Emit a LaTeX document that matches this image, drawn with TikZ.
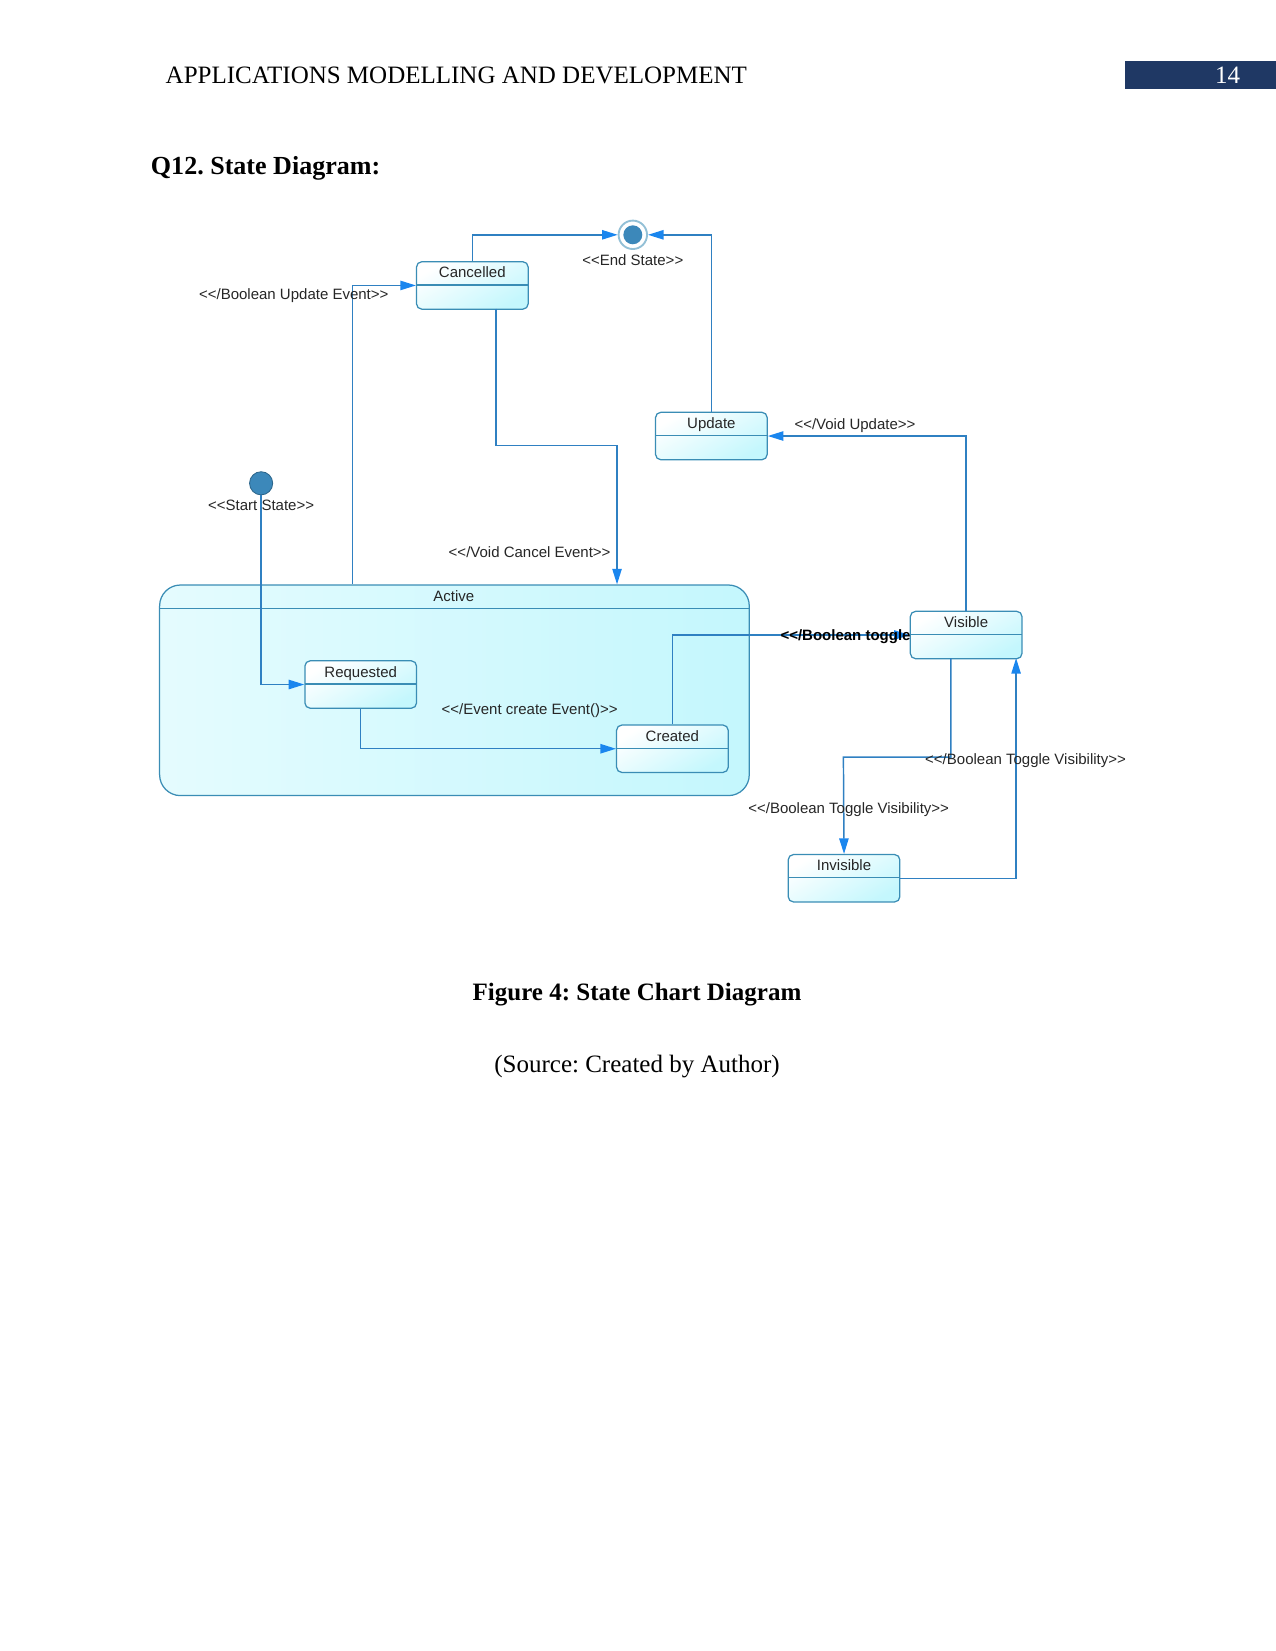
\documentclass[tikz,border=0pt]{standalone}
\usepackage{fontspec}
\setmainfont{Liberation Serif}
\newfontfamily\diagfont{Liberation Sans}
\usetikzlibrary{arrows.meta}
\frenchspacing
\def\pxu{0.5054pt}
\definecolor{navy}{HTML}{1F3864}
\definecolor{linec}{HTML}{2F80C2}
\definecolor{arrowc}{HTML}{1A86EE}
\definecolor{boxc}{HTML}{3A8DB5}
\definecolor{boxfill}{HTML}{C4F7FD}
\definecolor{dotc}{HTML}{3C88BA}
\tikzset{
  conn/.style={draw=linec, line width=0.7pt, -{Triangle[length=7.5pt,width=4.5pt,fill=arrowc,color=arrowc]}},
  dlabel/.style={font=\diagfont\fontsize{7.2}{8}\selectfont, text=black!85, inner sep=0pt, anchor=base},
  statebox/.style={draw=boxc, line width=0.6pt, rounded corners=2.5pt,
    top color=white, bottom color=boxfill, shading angle=30,
    minimum width=106*\pxu, minimum height=45*\pxu, inner sep=0pt, anchor=north west,
    path picture={\draw[boxc, line width=0.6pt] ([yshift=-22*\pxu]path picture bounding box.north west) -- ([yshift=-22*\pxu]path picture bounding box.north east);},
    label={[dlabel, yshift=-16*\pxu]north:#1}},
}
\begin{document}
\begin{tikzpicture}[x=\pxu, y=-\pxu]
\useasboundingbox (0,0) rectangle (1211,1568);

% header
\node[anchor=base west, inner sep=0pt, font=\fontsize{12}{14}\selectfont] (hdr) at (157,79) {APPLICATIONS MODELLING AND DEVELOPMENT};
\node[fill=navy, anchor=north west, minimum width=143*\pxu, minimum height=26*\pxu, inner sep=0pt] (pgbox) at (1068,58) {};
\node[anchor=base, inner sep=0pt, text=white, font=\fontsize{12}{14}\selectfont] (pgno) at (1166,79) {14};
\node[anchor=base west, inner sep=0pt, font=\bfseries\fontsize{12.5}{14}\selectfont] (q12) at (143,166) {Q12. State Diagram:};

% Active composite state
\node[draw=boxc, line width=0.6pt, rounded corners=10pt, left color=boxfill!45, right color=boxfill,
  minimum width=560*\pxu, minimum height=200*\pxu, inner sep=0pt, anchor=north west,
  path picture={\draw[boxc, line width=0.6pt] ([yshift=-22*\pxu]path picture bounding box.north west) -- ([yshift=-22*\pxu]path picture bounding box.north east);}] (act) at (151,555) {};
\node[dlabel] (actT) at (431,571) {Active};

% states
\node[statebox=Cancelled] (canc) at (395,248) {};
\node[statebox=Update] (upd) at (622,391) {};
\node[statebox=Visible] (vis) at (864,580) {};
\node[statebox=Invisible] (inv) at (748,811) {};
\node[statebox=Requested] (req) at (289,627) {};
\node[statebox=Created] (crt) at (585,688) {};

% start / end
\node[circle, fill=dotc, draw=dotc!75!black, line width=0.4pt, minimum size=22*\pxu, inner sep=0pt] (start) at (248,459) {};
\node[circle, draw=boxc!55, line width=0.9pt, fill=white, minimum size=27*\pxu, inner sep=0pt] (end) at (601,223) {};
\node[circle, fill=dotc, minimum size=18*\pxu, inner sep=0pt] (endin) at (601,223) {};

% helper coordinates
\coordinate (actOut) at (335,555);
\coordinate (cancOut) at (471,293);
\coordinate (bC) at (586,423);
\coordinate (actIn) at (586,555);
\coordinate (visOut) at (903,625);
\coordinate (bV) at (801,719);
\coordinate (visIn) at (965,625);

% connectors
\draw[conn] (canc.north) |- (end.west);
\draw[conn] (upd.north) |- (end.east);
\draw[conn] (vis.north) |- (upd.east);
\draw[conn] (actOut) |- (canc.west);
\draw[conn] (cancOut) |- (bC) -- (actIn);
\draw[conn] (start.south) |- (req.west);
\draw[conn] (req.south) |- (crt.west);
\draw[conn] (crt.north) |- (vis.west);
\draw[conn] (visOut) |- (bV) -- (inv.north);
\draw[conn] (inv.east) -| (visIn);

% labels
\node[dlabel] (lEnd) at (601,252) {<{}<End State>{}>};
\node[dlabel] (lStart) at (248,485) {<{}<Start State>{}>};
\node[dlabel] (lBUE) at (279,284) {<{}</Boolean Update Event>{}>};
\node[dlabel] (lVU) at (812,408) {<{}</Void Update>{}>};
\node[dlabel] (lVCE) at (503,529) {<{}</Void Cancel Event>{}>};
\node[dlabel] (lECE) at (503,679) {<{}</Event create Event()>{}>};
\node[dlabel, font=\diagfont\bfseries\fontsize{7.2}{8}\selectfont, text=black] (lBT) at (803,608) {<{}</Boolean toggle};
\node[dlabel] (lBTV1) at (974,726) {<{}</Boolean Toggle Visibility>{}>};
\node[dlabel] (lBTV2) at (806,773) {<{}</Boolean Toggle Visibility>{}>};

% caption
\node[anchor=base, inner sep=0pt, font=\bfseries\fontsize{12}{14}\selectfont] (cap) at (605,950) {Figure 4: State Chart Diagram};
\node[anchor=base, inner sep=0pt, font=\fontsize{12}{14}\selectfont] (src) at (605,1019) {(Source: Created by Author)};
\end{tikzpicture}
\end{document}
